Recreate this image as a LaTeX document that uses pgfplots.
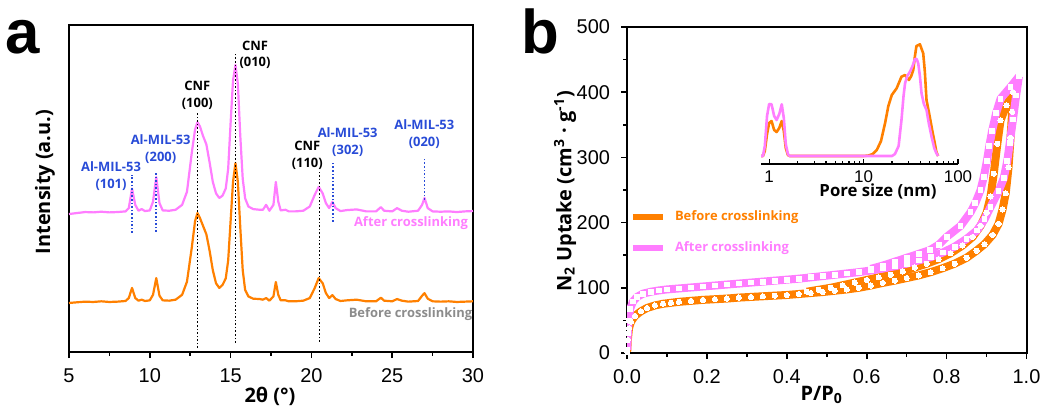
\documentclass[border=0pt]{standalone}
\usepackage{pgfplots}
\pgfplotsset{compat=1.18}
\usepackage{pgfplotstable}
\usepackage{fontspec}
\setmainfont{Open Sans}
\newfontfamily\arial{Liberation Sans}
\definecolor{orn}{RGB}{255,128,0}
\definecolor{pnk}{RGB}{255,125,255}
\definecolor{blu}{RGB}{40,75,215}
\definecolor{gry}{RGB}{140,140,140}

% XRD patterns (arbitrary units, stacked)
\pgfplotstableread{
x     before after
5.0   0.150  0.422
5.5   0.152  0.425
6.0   0.154  0.428
6.5   0.153  0.427
7.0   0.155  0.429
7.5   0.153  0.427
8.0   0.154  0.428
8.5   0.156  0.430
8.7   0.165  0.440
8.9   0.196  0.500
9.1   0.165  0.450
9.3   0.157  0.432
9.5   0.160  0.437
9.7   0.156  0.431
10.0  0.158  0.433
10.2  0.175  0.460
10.4  0.226  0.535
10.6  0.172  0.455
10.8  0.158  0.433
11.2  0.157  0.432
11.6  0.160  0.435
12.0  0.175  0.450
12.3  0.215  0.490
12.6  0.320  0.610
12.8  0.400  0.680
12.95 0.425  0.703
13.1  0.410  0.690
13.3  0.385  0.660
13.5  0.360  0.635
13.7  0.310  0.580
13.9  0.250  0.520
14.1  0.210  0.485
14.3  0.196  0.471
14.5  0.205  0.478
14.7  0.225  0.500
14.85 0.280  0.560
15.0  0.400  0.700
15.15 0.520  0.830
15.3  0.578  0.878
15.45 0.520  0.820
15.6  0.380  0.660
15.75 0.250  0.530
15.9  0.190  0.470
16.1  0.170  0.445
16.4  0.163  0.437
16.8  0.162  0.435
17.0  0.160  0.435
17.2  0.165  0.450
17.4  0.157  0.432
17.65 0.170  0.450
17.8  0.214  0.520
17.95 0.175  0.460
18.1  0.158  0.433
18.4  0.158  0.435
18.6  0.155  0.430
19.0  0.155  0.430
19.5  0.157  0.432
19.9  0.165  0.445
20.2  0.195  0.480
20.45 0.226  0.505
20.7  0.210  0.485
20.9  0.180  0.455
21.1  0.165  0.440
21.3  0.174  0.459
21.5  0.162  0.440
21.8  0.156  0.431
22.2  0.158  0.434
22.8  0.160  0.436
23.4  0.155  0.430
24.0  0.155  0.430
24.3  0.166  0.443
24.5  0.157  0.432
25.0  0.155  0.430
25.3  0.162  0.440
25.6  0.157  0.432
26.0  0.154  0.429
26.6  0.156  0.432
26.85 0.172  0.450
27.0  0.180  0.471
27.2  0.163  0.440
27.5  0.155  0.430
28.0  0.154  0.429
28.5  0.155  0.430
29.0  0.153  0.428
29.5  0.154  0.430
30.0  0.155  0.431
}\xrd

\pgfplotsset{
  panel/.style={
    scale only axis, anchor=south west,
    axis line style={line width=1bp},
    tick style={line width=0.8bp, black},
    major tick length=3bp, minor tick length=1.8bp,
    tick align=outside, xtick pos=bottom, ytick pos=left,
    tick label style={font=\arial\fontsize{10}{10}\selectfont},
    /pgf/number format/assume math mode=true,
  },
  befr/.style={orn, line width=4bp, line join=round, mark=*, mark size=1.3bp, mark options={white, line width=0pt}},
  aftr/.style={pnk, line width=4bp, line join=round, mark=square*, mark size=1.2bp, mark options={white, line width=0pt}},
}

\begin{document}
\begin{tikzpicture}
\path[use as bounding box] (0,0) rectangle (522.5bp,-203.5bp);

% ---- panel a ----
\begin{axis}[panel,
  at={(34.5bp,-176bp)}, width=202bp, height=163.5bp,
  xmin=5, xmax=30, ymin=0, ymax=1,
  xtick={5,10,...,30}, minor x tick num=1,
  ytick=\empty,
  xticklabel style={yshift=-2bp},
]
\addplot[orn, line width=1.1bp, line join=round] table[x=x, y=before] {\xrd};
\addplot[pnk, line width=1.1bp, line join=round] table[x=x, y=after] {\xrd};
\draw[black, densely dotted, line width=0.8bp] (axis cs:12.95,0.012) -- (axis cs:12.95,0.734);
\draw[black, densely dotted, line width=0.8bp] (axis cs:15.3,0.028) -- (axis cs:15.3,0.911);
\draw[black, densely dotted, line width=0.8bp] (axis cs:20.5,0.031) -- (axis cs:20.5,0.55);
\draw[blu, densely dotted, line width=0.8bp] (axis cs:8.9,0.364) -- (axis cs:8.9,0.541);
\draw[blu, densely dotted, line width=0.8bp] (axis cs:10.4,0.367) -- (axis cs:10.4,0.547);
\draw[blu, densely dotted, line width=0.8bp] (axis cs:21.35,0.398) -- (axis cs:21.35,0.581);
\draw[blu, densely dotted, line width=0.8bp] (axis cs:27,0.465) -- (axis cs:27,0.59);
\end{axis}

% ---- panel b ----
\begin{axis}[panel,
  at={(313.5bp,-176.5bp)}, width=199.75bp, height=163bp,
  xmin=0, xmax=1, ymin=0, ymax=500,
  xtick={0,0.2,0.4,0.6,0.8,1}, minor x tick num=1,
  ytick={0,100,...,500}, minor y tick num=1,
  xticklabel style={yshift=-2bp, /pgf/number format/.cd, fixed, fixed zerofill, precision=1},
  yticklabel style={xshift=-2bp},
]
% before crosslinking: adsorption
\addplot[befr] coordinates {
(0.0005,2) (0.002,20) (0.005,38) (0.01,48) (0.02,57) (0.035,64) (0.05,69) (0.07,73) (0.09,75.5)
(0.11,77) (0.13,78.5) (0.16,80) (0.19,81.5) (0.22,82.5) (0.25,83.5) (0.28,85) (0.31,86) (0.34,87)
(0.37,88) (0.40,89) (0.43,90.5) (0.46,92) (0.49,93.5) (0.52,95.5) (0.55,97.5) (0.58,100) (0.61,103.5)
(0.64,107.5) (0.67,111) (0.70,115) (0.73,119) (0.76,124) (0.79,130) (0.82,137) (0.85,146)
(0.875,157) (0.895,167) (0.915,181) (0.93,198) (0.94,220) (0.948,245) (0.955,285) (0.96,330)
(0.964,370) (0.966,400)
};
% before crosslinking: desorption
\addplot[befr] coordinates {
(0.966,400) (0.95,380) (0.935,357) (0.927,321) (0.918,275) (0.91,240) (0.9,215) (0.885,195)
(0.865,178) (0.84,165) (0.81,153) (0.78,144) (0.75,137) (0.72,131) (0.69,125) (0.66,120)
(0.63,116) (0.60,112) (0.57,108) (0.54,104) (0.51,100) (0.48,97) (0.45,94)
};
% after crosslinking: adsorption
\addplot[aftr] coordinates {
(0.0005,5) (0.002,30) (0.004,50) (0.008,68) (0.015,79) (0.025,86) (0.04,91) (0.06,94) (0.08,96)
(0.1,97.5) (0.13,99) (0.16,100.5) (0.19,102) (0.22,103.5) (0.25,105) (0.28,106.5) (0.31,108)
(0.34,109.5) (0.37,111) (0.40,112.5) (0.43,114) (0.46,116) (0.49,118) (0.52,120) (0.55,122)
(0.58,124) (0.61,126.5) (0.64,129.5) (0.67,133) (0.70,137) (0.73,142) (0.76,147) (0.79,154)
(0.82,163) (0.85,175) (0.876,188) (0.895,205) (0.91,224) (0.93,248) (0.943,268) (0.952,295)
(0.958,322) (0.966,358) (0.974,395) (0.981,424)
};
% after crosslinking: desorption
\addplot[aftr] coordinates {
(0.981,424) (0.96,408) (0.935,390) (0.924,368) (0.914,341) (0.907,318) (0.901,295) (0.893,270)
(0.885,250) (0.872,230) (0.86,216) (0.835,195) (0.8,178) (0.78,166) (0.759,158) (0.73,152)
(0.70,146) (0.67,140) (0.64,134) (0.61,129)
};
\end{axis}

% ---- inset: pore size distribution ----
\begin{axis}[
  scale only axis, anchor=south west,
  at={(380.5bp,-82bp)}, width=98.5bp, height=61.5bp,
  xmode=log, xmin=0.82, xmax=100, ymin=-8, ymax=115,
  axis x line=bottom, axis y line=none,
  axis line style={line width=0.8bp, -},
  tick style={line width=0.6bp, black}, tick align=inside,
  major tick length=2.5bp, minor tick length=1.5bp,
  xtick={1,10,100}, xticklabels={1,10,100},
  tick label style={font=\arial\fontsize{8.5}{8.5}\selectfont},
  /pgf/number format/assume math mode=true,
]
\addplot[orn, line width=1.3bp, line join=round] coordinates {
(0.8,0) (0.86,0) (0.9,5) (0.95,22) (1.0,33) (1.06,35) (1.13,26) (1.2,24) (1.28,28) (1.36,35)
(1.43,25) (1.5,8) (1.58,1) (1.65,0) (10,0) (11.3,0.5) (12.5,2) (13.8,6) (15.3,15) (16.9,33)
(18.3,50) (19.9,61) (22.4,67.7) (25.2,79.3) (27.5,81) (30.2,76) (32,80) (33.6,86) (35,100)
(36.3,110) (39.5,111.7) (42.8,102.7) (44.5,85) (46.4,56) (50.2,39.3) (53.5,25) (56.8,12.7)
(59,4) (61.6,0)
};
\addplot[pnk, line width=1.3bp, line join=round] coordinates {
(0.8,0) (0.86,0) (0.9,10) (0.95,40) (1.0,52) (1.06,51.7) (1.13,40) (1.2,36) (1.28,42) (1.36,51.7)
(1.43,38) (1.5,12) (1.58,2) (1.65,0) (20,0) (21.5,2) (23.5,10) (25.2,36) (26.5,60) (27.5,72.7)
(29,80) (31,84.3) (33,90) (35,97) (36.5,97) (37.9,92.7) (39.5,80) (41.1,62.7) (43.5,52) (46.4,46)
(49,33) (52.5,19.3) (56,8) (58.9,3) (61.6,0)
};
\end{axis}

% ---- text, in reference pixels ----
\begin{scope}[x=0.5bp, y=-0.5bp]
\newcommand\lab[6]{%
  \node[#4, font=\bfseries\fontsize{6.5}{6.5}\selectfont] at (#1,#2) {#5};
  \node[#4, font=\bfseries\fontsize{6.5}{6.5}\selectfont] at (#1,#3) {#6};}
\node[font=\arial\bfseries\fontsize{31}{31}\selectfont, anchor=base] at (23,53) {a};
\node[font=\arial\bfseries\fontsize{31}{31}\selectfont, anchor=base] at (540,53) {b};

\node[font=\bfseries\fontsize{10}{10}\selectfont, rotate=90] at (45,182) {Intensity (a.u.)};
\node[font=\bfseries\fontsize{10}{10}\selectfont] at (270,396.7) {2θ (°)};
\node[font=\bfseries\fontsize{10}{10}\selectfont, rotate=90] at (565,191.5)
  {N\textsubscript{2} Uptake (cm\textsuperscript{3} · g\textsuperscript{-1})};
\node[font=\bfseries\fontsize{10}{10}\selectfont] at (821.7,395) {P/P\textsubscript{0}};
\node[font=\bfseries\fontsize{8.4}{8.4}\selectfont] at (878,191.7) {Pore size (nm)};

\lab{111}{166.7}{185}{blu}{Al-MIL-53}{(101)}
\lab{160.7}{139.3}{157.7}{blu}{Al-MIL-53}{(200)}
\lab{197.3}{85.7}{104}{black}{CNF}{(100)}
\lab{255}{45.7}{63.3}{black}{CNF}{(010)}
\lab{307.3}{145.7}{164}{black}{CNF}{(110)}
\lab{347.7}{132.3}{151}{blu}{Al-MIL-53}{(302)}
\lab{424.3}{124.3}{142.7}{blu}{Al-MIL-53}{(020)}
\node[pnk, font=\bfseries\fontsize{6.5}{6.5}\selectfont] at (411,222.7) {After crosslinking};
\node[gry, font=\bfseries\fontsize{6.5}{6.5}\selectfont] at (410.5,314.3) {Before crosslinking};

\draw[orn, line width=3bp] (633,217.3) -- (663,217.3);
\draw[pnk, line width=3bp] (633,248.3) -- (663,248.3);
\node[orn, anchor=west, font=\bfseries\fontsize{6.5}{6.5}\selectfont] at (668,217.3) {Before crosslinking};
\node[pnk, anchor=west, font=\bfseries\fontsize{6.5}{6.5}\selectfont] at (668,248.3) {After crosslinking};
\end{scope}
\end{tikzpicture}
\end{document}
